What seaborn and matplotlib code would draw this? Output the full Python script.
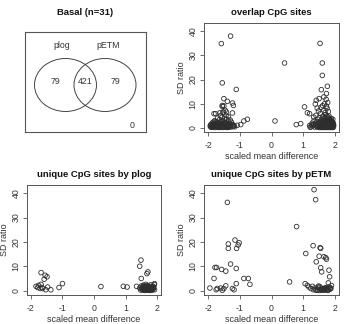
import numpy as np
import matplotlib.pyplot as plt
import seaborn as sns
from matplotlib.patches import Ellipse

# ---- venn panel ----
venn_title = 'Basal (n=31)'
venn_sets = ['plog', 'pETM']
venn_counts = ['79', '421', '79']
venn_outside = '0'

# ---- overlap CpG sites (scaled mean difference, SD ratio) ----
overlap_x = [-1.58, -1.29, -1.55, -1.11, -1.50, -1.39, -1.23, -1.20, -1.50, -1.55, -1.81, -1.76, -1.42, -1.46,
             -1.23, -0.76, -0.87, -0.97, -1.08, 0.11, 0.41, 1.53, 1.60, 1.60, 1.57, 1.76, 1.04, 1.13, 1.20,
             0.78, 0.92, 1.41, 1.50, 1.65, 1.73,
             -1.93, -1.90, -1.88, -1.86, -1.84, -1.82, -1.80, -1.79, -1.77, -1.75, -1.74, -1.72, -1.70, -1.69,
             -1.67, -1.66, -1.64, -1.63, -1.61, -1.60, -1.58, -1.57, -1.56, -1.55, -1.53, -1.52, -1.51, -1.50,
             -1.49, -1.47, -1.46, -1.45, -1.43, -1.42, -1.41, -1.39, -1.38, -1.36, -1.35, -1.33, -1.31, -1.30,
             -1.28, -1.26, -1.24, -1.22, -1.20, -1.85, -1.78, -1.71, -1.65, -1.59, -1.54, -1.48, -1.40, -1.34,
             -1.92, -1.83, -1.76, -1.68, -1.62, -1.44, -1.37, -1.29, -1.89, -1.81, -1.73, -1.58, -1.52, -1.46,
             -1.32, -1.18, -1.16, -1.62, -1.55, -1.53,
             -1.91, -1.87, -1.83, -1.79, -1.75, -1.71, -1.67, -1.63, -1.59, -1.55, -1.51, -1.47, -1.43,
             1.20, 1.25, 1.28, 1.30, 1.32, 1.34, 1.36, 1.38, 1.40, 1.41, 1.42, 1.44, 1.45, 1.46, 1.47, 1.48,
             1.49, 1.50, 1.51, 1.52, 1.53, 1.54, 1.55, 1.56, 1.57, 1.58, 1.59, 1.60, 1.61, 1.62, 1.63, 1.64,
             1.65, 1.66, 1.67, 1.68, 1.69, 1.70, 1.71, 1.72, 1.73, 1.74, 1.75, 1.76, 1.77, 1.78, 1.79, 1.80,
             1.81, 1.82, 1.83, 1.84, 1.85, 1.86, 1.87, 1.88, 1.89, 1.90, 1.91, 1.92, 1.93, 1.94, 1.95, 1.96,
             1.52, 1.56, 1.60, 1.64, 1.68, 1.72, 1.76, 1.80, 1.84, 1.88, 1.92, 1.58, 1.62, 1.66, 1.70, 1.74,
             1.78, 1.82, 1.86, 1.90, 1.94, 1.67, 1.71, 1.75, 1.79, 1.83, 1.87, 1.63, 1.69, 1.73, 1.77, 1.72,
             1.67, 1.61, 1.56, 1.48, 1.44, 1.79, 1.74, 1.81, 1.86, 1.90, 1.38, 1.33, 1.26, 1.22,
             1.54, 1.59, 1.65, 1.70, 1.75, 1.80, 1.85, 1.91, 1.57, 1.63, 1.69, 1.77, 1.84, 1.89, 1.93, 1.95,
             1.66, 1.71, 1.76, 1.81, 1.86, 1.91, 1.68, 1.73, 1.78, 1.83, 1.88, 1.64, 1.74, 1.84]
overlap_y = [34.8, 37.9, 18.6, 15.9, 12.1, 11.0, 10.3, 9.3, 9.1, 8.9, 5.9, 5.9, 6.6, 7.3,
             6.2, 3.6, 2.9, 1.4, 1.1, 2.9, 26.8, 34.9, 26.8, 21.7, 15.8, 17.2, 8.7, 6.3, 5.9,
             1.4, 1.8, 11.4, 12.1, 12.8, 14.2,
             0.8, 1.5, 0.4, 2.1, 1.0, 0.6, 1.8, 3.0, 0.9, 1.3, 2.6, 0.5, 4.1, 1.6,
             0.8, 2.2, 3.4, 1.1, 5.0, 0.6, 2.7, 1.4, 4.4, 0.9, 3.1, 1.8, 6.5, 0.5,
             2.4, 4.0, 1.2, 0.7, 5.2, 2.0, 3.6, 0.9, 1.5, 4.6, 2.9, 0.6, 1.9, 3.3,
             1.0, 2.4, 0.5, 1.4, 0.8, 0.3, 0.2, 0.3, 0.2, 0.3, 0.2, 0.3, 0.2, 0.3,
             1.2, 2.5, 1.1, 1.9, 1.3, 1.0, 0.4, 0.5, 0.7, 1.2, 0.6, 0.7, 1.1, 2.1,
             1.2, 1.0, 0.5, 6.3, 9.3, 6.6,
             0.3, 1.1, 1.6, 0.6, 2.0, 1.0, 1.4, 0.5, 1.7, 1.3, 0.8, 1.9, 0.4,
             1.0, 0.5, 2.0, 0.8, 1.4, 3.0, 0.4, 1.8, 5.2, 0.9, 2.5, 1.2, 0.3, 3.6, 1.7, 0.7,
             2.2, 4.3, 1.0, 0.5, 2.8, 6.0, 1.4, 0.8, 3.3, 2.0, 0.4, 1.2, 4.8, 2.6, 0.9, 1.6,
             7.2, 3.0, 0.6, 2.1, 1.1, 5.5, 3.8, 0.3, 1.5, 2.4, 8.1, 0.8, 4.4, 1.9, 2.9, 0.5,
             1.3, 3.5, 2.2, 0.9, 1.7, 0.4, 2.6, 1.0, 1.9, 0.6, 1.3, 2.4, 0.8, 1.5, 0.3, 1.1,
             0.2, 0.3, 0.2, 0.3, 0.2, 0.4, 0.2, 0.3, 0.2, 0.3, 0.2, 1.0, 0.6, 1.3, 0.9, 0.6,
             1.2, 0.7, 1.4, 1.1, 0.9, 2.7, 2.0, 3.1, 1.6, 4.0, 2.0, 3.9, 6.4, 9.0, 10.5, 11.8,
             10.0, 9.2, 8.6, 7.0, 8.2, 6.8, 5.0, 4.9, 3.2, 2.9, 9.9, 4.5, 1.3, 0.3,
             0.6, 1.6, 0.4, 1.7, 1.4, 2.0, 0.8, 1.6, 2.3, 1.8, 3.4, 2.6, 0.5, 1.2, 3.6, 2.0,
             1.9, 2.6, 1.5, 2.8, 0.7, 1.7, 4.2, 3.5, 2.3, 1.1, 3.9, 0.5, 2.1, 3.0]

# ---- unique CpG sites by plog ----
plog_x = [-1.68, -1.55, -1.49, -1.58, -1.84, -1.76, -1.68, -1.65, -1.71, -1.53, -1.47, -1.37, -1.11, -1.00,
          -1.79, -1.63, 0.22, 0.93, 1.05, 1.49, 1.45, 1.50, 1.71, 1.68, 1.35, 1.92,
          1.45, 1.48, 1.50, 1.52, 1.54, 1.55, 1.57, 1.58, 1.60, 1.61, 1.62, 1.64, 1.65, 1.66, 1.68, 1.69,
          1.70, 1.72, 1.73, 1.74, 1.76, 1.77, 1.78, 1.80, 1.81, 1.82, 1.84, 1.85, 1.86, 1.88, 1.90, 1.92,
          1.53, 1.57, 1.63, 1.67, 1.71, 1.75, 1.79, 1.83, 1.87, 1.91, 1.59, 1.66, 1.73, 1.80, 1.56, 1.70,
          1.62, 1.78, 1.85]
plog_y = [7.5, 6.4, 5.8, 4.8, 1.9, 2.3, 2.7, 1.4, 1.0, 0.5, 1.6, 0.5, 1.4, 3.0,
          1.4, 1.0, 1.8, 1.9, 1.6, 12.6, 10.1, 5.1, 7.8, 7.1, 1.9, 3.0,
          1.2, 0.4, 2.0, 0.8, 1.5, 0.3, 2.4, 1.1, 0.6, 1.8, 0.2, 1.3, 2.7, 0.5, 1.6, 0.9,
          2.2, 0.3, 1.4, 0.7, 1.9, 0.4, 1.1, 2.5, 0.6, 1.5, 0.3, 1.2, 2.0, 0.8, 1.6, 0.5,
          1.0, 0.7, 1.0, 2.1, 1.7, 0.9, 1.3, 0.7, 1.4, 2.6, 1.5, 0.3, 0.5, 1.0, 2.0, 1.2,
          0.9, 0.2, 0.6]

# ---- unique CpG sites by pETM ----
petm_x = [-1.39, 1.34, 1.39, 0.79, -1.36, -1.36, -1.15, -1.02, -1.05, -1.10, -1.29, -1.11, -1.78, -1.73,
          -1.57, -1.44, -1.81, -0.87, -0.73, -0.68, -1.11, -1.94, -1.71, -1.60, -1.50, -1.44, -1.23, -1.18,
          -1.74, -1.55, 0.57, 1.08, 1.31, 1.53, 1.55, 1.50, 1.65, 1.71, 1.73, 1.41, 1.55, 1.58, 1.81, 1.83,
          1.79, 1.06, 1.13, 1.18, 1.29, 1.24,
          1.32, 1.36, 1.40, 1.44, 1.47, 1.51, 1.54, 1.57, 1.60, 1.63, 1.66, 1.69, 1.72, 1.75, 1.78, 1.81,
          1.84, 1.87, 1.89, 1.45, 1.52, 1.62, 1.70, 1.77, 1.85, 1.48, 1.58, 1.67, 1.74]
petm_y = [36.2, 41.4, 37.3, 26.3, 19.2, 17.4, 20.8, 19.7, 18.8, 17.4, 11.0, 9.2, 9.6, 9.6,
          8.8, 8.1, 5.1, 5.1, 5.1, 2.7, 3.0, 1.2, 1.0, 1.2, 1.0, 2.1, 1.0, 0.5,
          0.5, 0.3, 3.7, 15.3, 18.5, 17.7, 17.4, 14.2, 14.0, 13.6, 13.0, 11.9, 9.5, 7.8, 8.5, 5.8,
          3.3, 3.0, 2.3, 1.6, 1.9, 1.0,
          0.5, 1.2, 0.3, 0.8, 1.5, 0.2, 0.6, 1.1, 0.4, 0.9, 0.3, 1.3, 0.5, 0.8, 0.2, 1.6,
          0.7, 1.0, 2.2, 0.3, 1.8, 0.6, 1.0, 0.4, 1.3, 2.0, 0.4, 0.8, 1.4]

x_ticks = [-2, -1, 0, 1, 2]
y_ticks = [0, 10, 20, 30, 40]

sns.set_style('ticks')
plt.rcParams['font.family'] = ['Liberation Sans', 'DejaVu Sans']

edge = '#555555'
txt = '#333333'

fig = plt.figure(figsize=(3.44, 3.24), dpi=100)

def px_axes(l, t, r, b):
    W, H = 344, 324
    return fig.add_axes([l / W, 1 - b / H, (r - l) / W, (b - t) / H])

def style_scatter(ax, x, y, title):
    sns.scatterplot(x=x, y=y, ax=ax, marker='o', s=11, facecolors='none',
                    edgecolor='#2e2e2e', linewidth=0.6, legend=False)
    ax.set_xlim(-2.126, 2.126)
    ax.set_ylim(-1.65, 43.3)
    ax.set_xticks(x_ticks)
    ax.set_yticks(y_ticks)
    ax.set_xticklabels([str(v) for v in x_ticks])
    ax.set_yticklabels([str(v) for v in y_ticks], rotation=90, va='center')
    ax.tick_params(length=3, width=0.6, colors=edge, labelsize=6.3, labelcolor=txt, pad=1.5)
    ax.tick_params(axis='x', pad=3.5)
    for s in ax.spines.values():
        s.set_visible(True)
        s.set_color(edge)
        s.set_linewidth(0.7)
    ax.set_xlabel('scaled mean difference', fontsize=6.5, color=txt, labelpad=1.5)
    ax.set_ylabel('SD ratio', fontsize=6.5, color=txt, labelpad=2)
    ax.set_title(title, fontsize=6.8, fontweight='bold', color='#111111', pad=6)

# venn panel, data coords equal to pixel coords of the box
axv = px_axes(25, 32, 146, 132)
axv.set_xlim(25, 146)
axv.set_ylim(132, 32)
axv.set_xticks([])
axv.set_yticks([])
for s in axv.spines.values():
    s.set_visible(True)
    s.set_color(edge)
    s.set_linewidth(0.8)
axv.add_patch(Ellipse((65.5, 85), 62, 53, fill=False, ec='#444444', lw=0.7))
axv.add_patch(Ellipse((105, 85), 62, 53, fill=False, ec='#444444', lw=0.7))
axv.text(61.7, 45.5, venn_sets[0], ha='center', va='center', fontsize=6.3, color=txt)
axv.text(108, 45.5, venn_sets[1], ha='center', va='center', fontsize=6.3, color=txt)
for xx, lab in zip([55, 85.3, 115], venn_counts):
    axv.text(xx, 81, lab, ha='center', va='center', fontsize=6.3, color=txt)
axv.text(131.7, 125, venn_outside, ha='center', va='center', fontsize=6.3, color=txt)
axv.set_title(venn_title, fontsize=6.8, fontweight='bold', color='#111111', pad=12)

ax1 = px_axes(204, 23, 339, 132)
style_scatter(ax1, overlap_x, overlap_y, 'overlap CpG sites')

ax2 = px_axes(27, 185, 161, 295)
style_scatter(ax2, plog_x, plog_y, 'unique CpG sites by plog')

ax3 = px_axes(204, 185, 339, 295)
style_scatter(ax3, petm_x, petm_y, 'unique CpG sites by pETM')

fig.savefig('out.png', dpi=100)
